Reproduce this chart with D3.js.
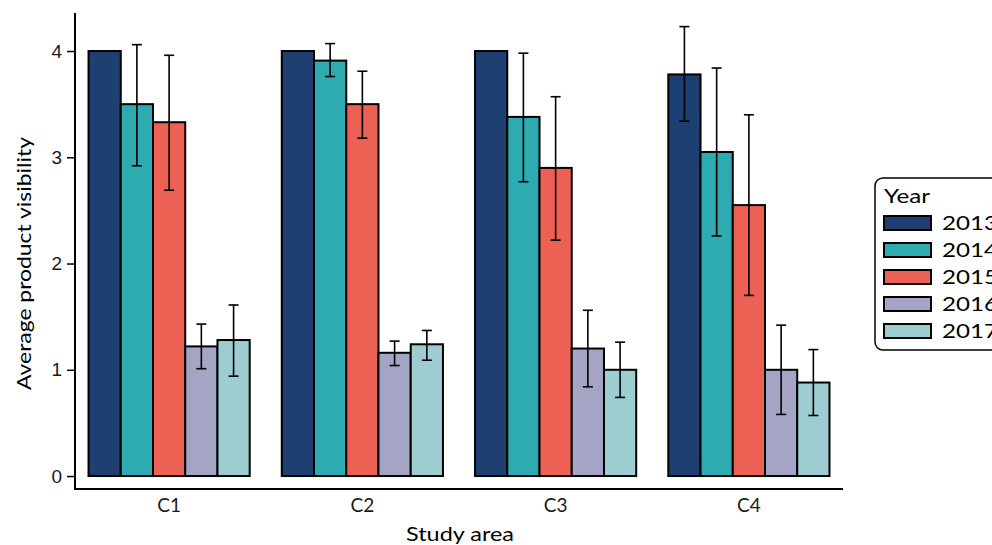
<!DOCTYPE html>
<html>
<head>
<meta charset="utf-8">
<script src="https://cdn.jsdelivr.net/npm/d3@7"></script>
<style>
  body { margin: 0; background: #fff; }
  svg { display: block; }
</style>
</head>
<body>
<svg id="chart" width="992" height="545"></svg>
<script>
const areas = ['C1', 'C2', 'C3', 'C4'];
const years = ['2013', '2014', '2015', '2016', '2017'];
const colors = ['#1d3f71', '#2eabb0', '#ec6153', '#a4a4c4', '#9ecdd1'];

// mean per area, one array per year
const means = {
    '2013': [4.00, 4.00, 4.00, 3.78],
    '2014': [3.50, 3.91, 3.38, 3.05],
    '2015': [3.33, 3.50, 2.90, 2.55],
    '2016': [1.22, 1.16, 1.20, 1.00],
    '2017': [1.28, 1.24, 1.00, 0.88]
};
// error bar limits (null = no bar)
const lower = {
    '2013': [null, null, null, 3.34],
    '2014': [2.92, 3.76, 2.77, 2.26],
    '2015': [2.69, 3.18, 2.22, 1.70],
    '2016': [1.01, 1.04, 0.84, 0.58],
    '2017': [0.94, 1.09, 0.74, 0.57]
};
const upper = {
    '2013': [null, null, null, 4.23],
    '2014': [4.06, 4.07, 3.98, 3.84],
    '2015': [3.96, 3.81, 3.57, 3.40],
    '2016': [1.43, 1.27, 1.56, 1.42],
    '2017': [1.61, 1.37, 1.26, 1.19]
};
const yTicks = [0, 1, 2, 3, 4];

const margin = { left: 75, right: 149, top: 13, bottom: 56 };
const width = 992, height = 545;

const svg = d3.select('#chart');

const x = d3.scaleBand()
    .domain(areas)
    .range([margin.left, width - margin.right])
    .paddingInner(0.166)
    .paddingOuter(0.07);

const xYear = d3.scaleBand()
    .domain(years)
    .range([0, x.bandwidth()]);

const y = d3.scaleLinear()
    .domain([-0.122, 4.358])
    .range([height - margin.bottom, margin.top]);

const color = d3.scaleOrdinal().domain(years).range(colors);

const rows = [];
years.forEach(yr => {
    areas.forEach((a, i) => {
        rows.push({ area: a, year: yr, mean: means[yr][i], lo: lower[yr][i], hi: upper[yr][i] });
    });
});

// bars
svg.append('g')
    .attr('class', 'bars')
    .selectAll('rect')
    .data(rows)
    .enter()
    .append('rect')
        .attr('x', d => x(d.area) + xYear(d.year))
        .attr('y', d => y(d.mean))
        .attr('width', xYear.bandwidth())
        .attr('height', d => y(0) - y(d.mean))
        .attr('fill', d => color(d.year))
        .attr('stroke', '#000')
        .attr('stroke-width', 2);

// error bars
const errs = svg.append('g')
    .attr('class', 'errors')
    .selectAll('g')
    .data(rows.filter(d => d.lo !== null))
    .enter()
    .append('g')
        .attr('transform', d => `translate(${x(d.area) + xYear(d.year) + xYear.bandwidth() / 2},0)`);

errs.append('line')
    .attr('x1', 0).attr('x2', 0)
    .attr('y1', d => y(d.lo))
    .attr('y2', d => y(d.hi))
    .attr('stroke', '#000')
    .attr('stroke-width', 1.6);

errs.selectAll('line.cap')
    .data(d => [d.lo, d.hi])
    .enter()
    .append('line')
        .attr('class', 'cap')
        .attr('x1', -5).attr('x2', 5)
        .attr('y1', v => y(v))
        .attr('y2', v => y(v))
        .attr('stroke', '#000')
        .attr('stroke-width', 1.6);

// y axis
const yAxis = svg.append('g')
    .attr('transform', `translate(${margin.left},0)`)
    .call(d3.axisLeft(y).tickValues(yTicks).tickSize(8).tickPadding(5).tickFormat(d3.format('d')));
yAxis.select('.domain').remove();
yAxis.selectAll('.tick line').attr('stroke', '#000').attr('stroke-width', 1.5);
yAxis.selectAll('.tick text')
    .attr('fill', '#1a1a1a')
    .style('font-family', '"Liberation Sans", Arial, sans-serif')
    .style('font-size', '19px');

// x axis
const xAxis = svg.append('g')
    .attr('transform', `translate(0,${height - margin.bottom})`)
    .call(d3.axisBottom(x).tickSize(0).tickPadding(10));
xAxis.select('.domain').remove();
xAxis.selectAll('.tick text')
    .attr('fill', '#1a1a1a')
    .style('font-family', 'Lato, sans-serif')
    .style('font-size', '19px');

// axis lines
svg.append('line')
    .attr('x1', margin.left).attr('x2', margin.left)
    .attr('y1', margin.top).attr('y2', height - margin.bottom)
    .attr('stroke', '#000').attr('stroke-width', 2);
svg.append('line')
    .attr('x1', margin.left - 1).attr('x2', width - margin.right)
    .attr('y1', height - margin.bottom).attr('y2', height - margin.bottom)
    .attr('stroke', '#000').attr('stroke-width', 2);

// axis titles (the reference draws them a little wide)
svg.append('text')
    .attr('x', 460)
    .attr('y', 541)
    .attr('text-anchor', 'middle')
    .attr('textLength', 108)
    .attr('lengthAdjust', 'spacingAndGlyphs')
    .style('font-family', 'Lato, sans-serif')
    .style('font-size', '19px')
    .text('Study area');

svg.append('text')
    .attr('transform', `translate(31,${y(2)}) rotate(-90)`)
    .attr('text-anchor', 'middle')
    .attr('textLength', 253)
    .attr('lengthAdjust', 'spacingAndGlyphs')
    .style('font-family', 'Lato, sans-serif')
    .style('font-size', '19px')
    .text('Average product visibility');

// legend
const legend = svg.append('g').attr('transform', 'translate(875,178)');
legend.append('rect')
    .attr('x', 0).attr('y', 0)
    .attr('width', 140).attr('height', 172)
    .attr('rx', 8)
    .attr('fill', '#fff')
    .attr('stroke', '#000')
    .attr('stroke-width', 1.5);
legend.append('text')
    .attr('x', 9).attr('y', 25)
    .attr('textLength', 46)
    .attr('lengthAdjust', 'spacingAndGlyphs')
    .style('font-family', 'Lato, sans-serif')
    .style('font-size', '19px')
    .text('Year');

const items = legend.selectAll('g.item')
    .data(years)
    .enter()
    .append('g')
        .attr('class', 'item')
        .attr('transform', (d, i) => `translate(0,${45 + i * 27})`);
items.append('rect')
    .attr('x', 9).attr('y', -7)
    .attr('width', 47).attr('height', 14)
    .attr('fill', d => color(d))
    .attr('stroke', '#000')
    .attr('stroke-width', 2);
items.append('text')
    .attr('x', 67).attr('y', 0)
    .attr('dy', '0.36em')
    .attr('textLength', 56)
    .attr('lengthAdjust', 'spacingAndGlyphs')
    .style('font-family', 'Lato, sans-serif')
    .style('font-size', '20px')
    .text(d => d);
</script>
</body>
</html>
